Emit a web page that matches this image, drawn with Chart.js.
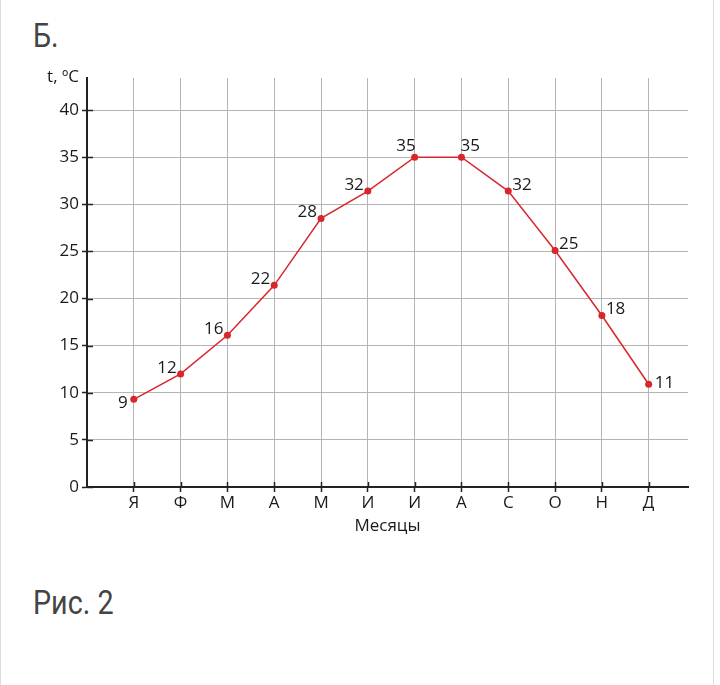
<!DOCTYPE html>
<html>
<head>
<meta charset="utf-8">
<script src="https://cdn.jsdelivr.net/npm/chart.js@4"></script>
<style>
  html, body { margin: 0; padding: 0; background: #fff; }
  body { width: 720px; height: 685px; position: relative; overflow: hidden; }
  #card { position: absolute; left: 0; top: -2px; width: 714px; height: 700px; border-left: 1px solid #dcdcdc; border-right: 1px solid #dcdcdc; box-sizing: border-box; }
  .cap { position: absolute; left: 33px; font-family: Roboto, sans-serif; font-size: 33px; line-height: 1; color: #444; transform: scaleX(0.87); transform-origin: left top; white-space: nowrap; }
  #wrap { position: absolute; left: 0; top: 0; width: 720px; height: 685px; }
</style>
</head>
<body>
<div id="card"></div>
<div class="cap" style="top:19px">Б.</div>
<div class="cap" style="top:586px">Рис. 2</div>
<div id="wrap"><canvas id="c" width="720" height="685"></canvas></div>
<script>
// ---- data ----
const months = ['Я', 'Ф', 'М', 'А', 'М', 'И', 'И', 'А', 'С', 'О', 'Н', 'Д'];
const temps = [9.3, 12.0, 16.1, 21.4, 28.5, 31.4, 35.0, 35.0, 31.4, 25.1, 18.2, 10.9];
const tempLabels = ['9', '12', '16', '22', '28', '32', '35', '35', '32', '25', '18', '11'];
const yTicks = [0, 5, 10, 15, 20, 25, 30, 35, 40];
const yTitle = 't, \u00BAC';
const xTitle = 'Месяцы';

const FONT = '"Open Sans", "Noto Sans", sans-serif';
const FS = 17;
const TEXT = '#1a1a1a';
const RED = '#d9262c';

const points = temps.map((v, i) => ({ x: i + 1, y: v }));

const extras = {
  id: 'extras',
  afterDraw(chart) {
    const ctx = chart.ctx;
    const xs = chart.scales.x, ys = chart.scales.y;
    const area = chart.chartArea;
    ctx.save();
    // inner halves of tick marks
    ctx.strokeStyle = '#222';
    ctx.lineWidth = 1.5;
    yTicks.forEach(v => {
      const py = Math.round(ys.getPixelForValue(v)) + 0.5;
      ctx.beginPath(); ctx.moveTo(area.left, py); ctx.lineTo(area.left + 6, py); ctx.stroke();
    });
    months.forEach((m, i) => {
      const px = Math.round(xs.getPixelForValue(i + 1)) + 0.5;
      ctx.beginPath(); ctx.moveTo(px, area.bottom); ctx.lineTo(px, area.bottom - 5); ctx.stroke();
    });
    // y title
    ctx.fillStyle = TEXT;
    ctx.font = FS + 'px ' + FONT;
    ctx.textAlign = 'right';
    ctx.textBaseline = 'middle';
    ctx.fillText(yTitle, area.left - 8, area.top - 1);
    // value labels
    const meta = chart.getDatasetMeta(0);
    meta.data.forEach((pt, i) => {
      let dx, dy, align;
      if (i === 0) { align = 'right'; dx = -6; dy = 4; }
      else if (i < 6) { align = 'right'; dx = -4; dy = -6; }
      else if (i === 6) { align = 'right'; dx = 1; dy = -11; }
      else if (i === 7) { align = 'left'; dx = -1; dy = -11; }
      else if (i < 11) { align = 'left'; dx = 4; dy = -6; }
      else { align = 'left'; dx = 6; dy = -1; }
      ctx.textAlign = align;
      ctx.fillText(tempLabels[i], pt.x + dx, pt.y + dy);
    });
    ctx.restore();
  }
};

new Chart(document.getElementById('c'), {
  type: 'line',
  data: {
    datasets: [{
      data: points,
      borderColor: RED,
      backgroundColor: RED,
      borderWidth: 1.5,
      pointRadius: 3.5,
      pointBackgroundColor: RED,
      pointBorderWidth: 0,
      tension: 0,
      fill: false
    }]
  },
  options: {
    responsive: false,
    animation: false,
    events: [],
    layout: { padding: { left: 0, top: 78, right: 32, bottom: 149 } },
    plugins: { legend: { display: false }, tooltip: { enabled: false } },
    scales: {
      x: {
        type: 'linear',
        min: 0,
        max: 12.84,
        afterBuildTicks: axis => { axis.ticks = months.map((m, i) => ({ value: i + 1 })); },
        afterFit: s => { s.height = 49; },
        ticks: {
          callback: (v) => months[v - 1] || '',
          font: { family: FONT, size: FS },
          color: TEXT,
          padding: 1,
          maxRotation: 0,
          autoSkip: false
        },
        grid: { color: '#b4b4b4', lineWidth: 1, tickLength: 5, tickColor: '#222', tickWidth: 1.5 },
        border: { color: '#222', width: 2 },
        title: { display: true, text: xTitle, font: { family: FONT, size: FS }, color: TEXT, padding: 0 }
      },
      y: {
        type: 'linear',
        min: 0,
        max: 43.4,
        afterBuildTicks: axis => { axis.ticks = yTicks.map(v => ({ value: v })); },
        afterFit: s => { s.width = 87; },
        ticks: {
          font: { family: FONT, size: FS },
          color: TEXT,
          padding: 3
        },
        grid: { color: '#b4b4b4', lineWidth: 1, tickLength: 5, tickColor: '#222', tickWidth: 1.5 },
        border: { color: '#222', width: 2 }
      }
    }
  },
  plugins: [extras]
});
</script>
</body>
</html>
